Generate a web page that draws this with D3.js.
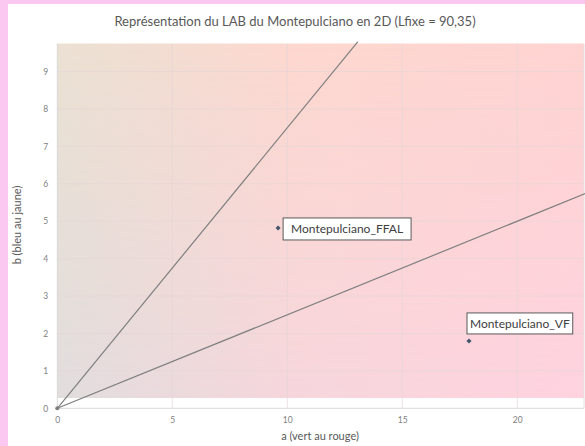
<!DOCTYPE html>
<html><head><meta charset="utf-8">
<script src="https://cdn.jsdelivr.net/npm/d3@7"></script>
<style>html,body{margin:0;padding:0;background:#fac8f0;}svg{display:block;}</style>
</head><body>
<script>
const title = "Représentation du LAB du Montepulciano en 2D (Lfixe = 90,35)";
const xTitle = "a (vert au rouge)";
const yTitle = "b (bleu au jaune)";
const aTicks = [0, 5, 10, 15, 20];
const bTicks = [0, 1, 2, 3, 4, 5, 6, 7, 8, 9];
const pointNames = ["Montepulciano_FFAL", "Montepulciano_VF"];
const pointA = [9.6, 17.9];
const pointB = [4.82, 1.8];
const line1A = [0, 13.07];
const line1B = [0, 9.8];
const line2A = [0, 23.0];
const line2B = [0, 5.75];

const W = 585, H = 446;
const svg = d3.select("body").append("svg").attr("width", W).attr("height", H);
const font = "Lato, 'Open Sans', sans-serif";

svg.append("rect").attr("x", 8).attr("y", 4).attr("width", W - 8).attr("height", H - 4).attr("fill", "#ffffff");

const x = d3.scaleLinear().domain([0, 22.9]).range([57.3, 584]);
const y = d3.scaleLinear().domain([0, 9.75]).range([408.3, 43.5]);

const defs = svg.append("defs");
const gTop = defs.append("linearGradient").attr("id", "gTop").attr("x1", 0).attr("x2", 1).attr("y1", 0).attr("y2", 0);
gTop.append("stop").attr("offset", 0).attr("stop-color", "#ebe1d3");
gTop.append("stop").attr("offset", 0.45).attr("stop-color", "#fdd8d0");
gTop.append("stop").attr("offset", 1).attr("stop-color", "#ffd4d2");
const gBot = defs.append("linearGradient").attr("id", "gBot").attr("x1", 0).attr("x2", 1).attr("y1", 0).attr("y2", 0);
gBot.append("stop").attr("offset", 0).attr("stop-color", "#e1dddd");
gBot.append("stop").attr("offset", 0.45).attr("stop-color", "#f6d6dc");
gBot.append("stop").attr("offset", 1).attr("stop-color", "#ffd2df");
const gMask = defs.append("linearGradient").attr("id", "gMask").attr("x1", 0).attr("x2", 0).attr("y1", 0).attr("y2", 1);
gMask.append("stop").attr("offset", 0).attr("stop-color", "#000");
gMask.append("stop").attr("offset", 1).attr("stop-color", "#fff");

const px0 = x(0), px1 = x.range()[1], py0 = y.range()[1], py1 = 398;
defs.append("mask").attr("id", "vm").append("rect")
  .attr("x", px0).attr("y", py0).attr("width", px1 - px0).attr("height", py1 - py0).attr("fill", "url(#gMask)");
svg.append("rect").attr("x", px0).attr("y", py0).attr("width", px1 - px0).attr("height", py1 - py0).attr("fill", "url(#gTop)");
svg.append("rect").attr("x", px0).attr("y", py0).attr("width", px1 - px0).attr("height", py1 - py0).attr("fill", "url(#gBot)").attr("mask", "url(#vm)");

// gridlines
const grid = svg.append("g");
grid.selectAll(".vg").data(aTicks.slice(1)).join("line")
  .attr("x1", d => x(d)).attr("x2", d => x(d)).attr("y1", y.range()[1]).attr("y2", y(0))
  .attr("stroke", "#e6d6d6").attr("stroke-width", 1).attr("opacity", 0.7);
grid.selectAll(".hg").data(bTicks.slice(1)).join("line")
  .attr("x1", x(0)).attr("x2", px1).attr("y1", d => y(d)).attr("y2", d => y(d))
  .attr("stroke", "#e6d6d6").attr("stroke-width", 1).attr("opacity", 0.7);
svg.append("line").attr("x1", px1).attr("x2", px1).attr("y1", py0).attr("y2", y(0)).attr("stroke", "#e0e0e0");

// axes lines
svg.append("line").attr("x1", x(0)).attr("x2", px1).attr("y1", y(0)).attr("y2", y(0)).attr("stroke", "#d9d9d9");
svg.append("line").attr("x1", x(0)).attr("x2", x(0)).attr("y1", py0).attr("y2", y(0)).attr("stroke", "#d9d9d9");

// axes via d3
const xAxis = d3.axisBottom(x).tickValues(aTicks).tickSize(0).tickPadding(9).tickFormat(d3.format("d"));
const gx = svg.append("g").attr("transform", `translate(0,${y(0)})`).call(xAxis);
gx.select(".domain").remove();
gx.selectAll("text").attr("fill", "#7f7f7f").attr("font-size", 8.5).attr("font-family", font);
const yAxis = d3.axisLeft(y).tickValues(bTicks).tickSize(0).tickPadding(9).tickFormat(d3.format("d"));
const gy = svg.append("g").attr("transform", `translate(${x(0)},0)`).call(yAxis);
gy.select(".domain").remove();
gy.selectAll("text").attr("fill", "#7f7f7f").attr("font-size", 8.5).attr("font-family", font);

// clip for lines
defs.append("clipPath").attr("id", "clip").append("rect")
  .attr("x", px0 - 3).attr("y", py0 - 2).attr("width", px1 - px0 + 6).attr("height", y(0) - py0 + 6);

const lineGen = d3.line().x(d => x(d[0])).y(d => y(d[1]));
const lines = [d3.zip(line1A, line1B), d3.zip(line2A, line2B)];
svg.append("g").attr("clip-path", "url(#clip)").selectAll("path").data(lines).join("path")
  .attr("d", lineGen).attr("fill", "none").attr("stroke", "#7f7f7f").attr("stroke-width", 1.2);
svg.append("circle").attr("cx", x(0)).attr("cy", y(0)).attr("r", 2).attr("fill", "#7f7f7f");

// points
const pts = d3.range(pointNames.length).map(i => ({name: pointNames[i], a: pointA[i], b: pointB[i]}));
svg.selectAll(".pt").data(pts).join("path")
  .attr("d", d3.symbol(d3.symbolSquare, 13))
  .attr("transform", d => `translate(${x(d.a)},${y(d.b)}) rotate(45)`)
  .attr("fill", "#44546a");

// labels
const labelOffsets = [[5, -10, 22], [-2, -28, 21]]; // dx, dy(top), height
const lg = svg.selectAll(".lbl").data(pts).join("g");
lg.each(function(d, i) {
  const g = d3.select(this);
  const t = g.append("text").text(d.name).attr("font-family", font).attr("font-size", 12).attr("fill", "#404040");
  const tw = t.node().getComputedTextLength();
  const bx = x(d.a) + labelOffsets[i][0], by = y(d.b) + labelOffsets[i][1], bh = labelOffsets[i][2];
  const pad = i === 0 ? 8 : 3;
  g.insert("rect", "text").attr("x", bx).attr("y", by).attr("width", tw + pad * 2).attr("height", bh)
    .attr("fill", "#fff").attr("stroke", "#595959").attr("stroke-width", 1);
  t.attr("x", bx + pad).attr("y", by + bh / 2 + 4.3);
});

// titles
svg.append("text").attr("x", 295).attr("y", 26).attr("text-anchor", "middle")
  .attr("font-family", font).attr("font-size", 13).attr("fill", "#595959").text(title);
svg.append("text").attr("x", 320).attr("y", 440).attr("text-anchor", "middle")
  .attr("font-family", font).attr("font-size", 11).attr("fill", "#595959").text(xTitle);
svg.append("text").attr("transform", "translate(21,225) rotate(-90)").attr("text-anchor", "middle")
  .attr("font-family", font).attr("font-size", 11).attr("fill", "#595959").text(yTitle);
</script>
</body></html>
